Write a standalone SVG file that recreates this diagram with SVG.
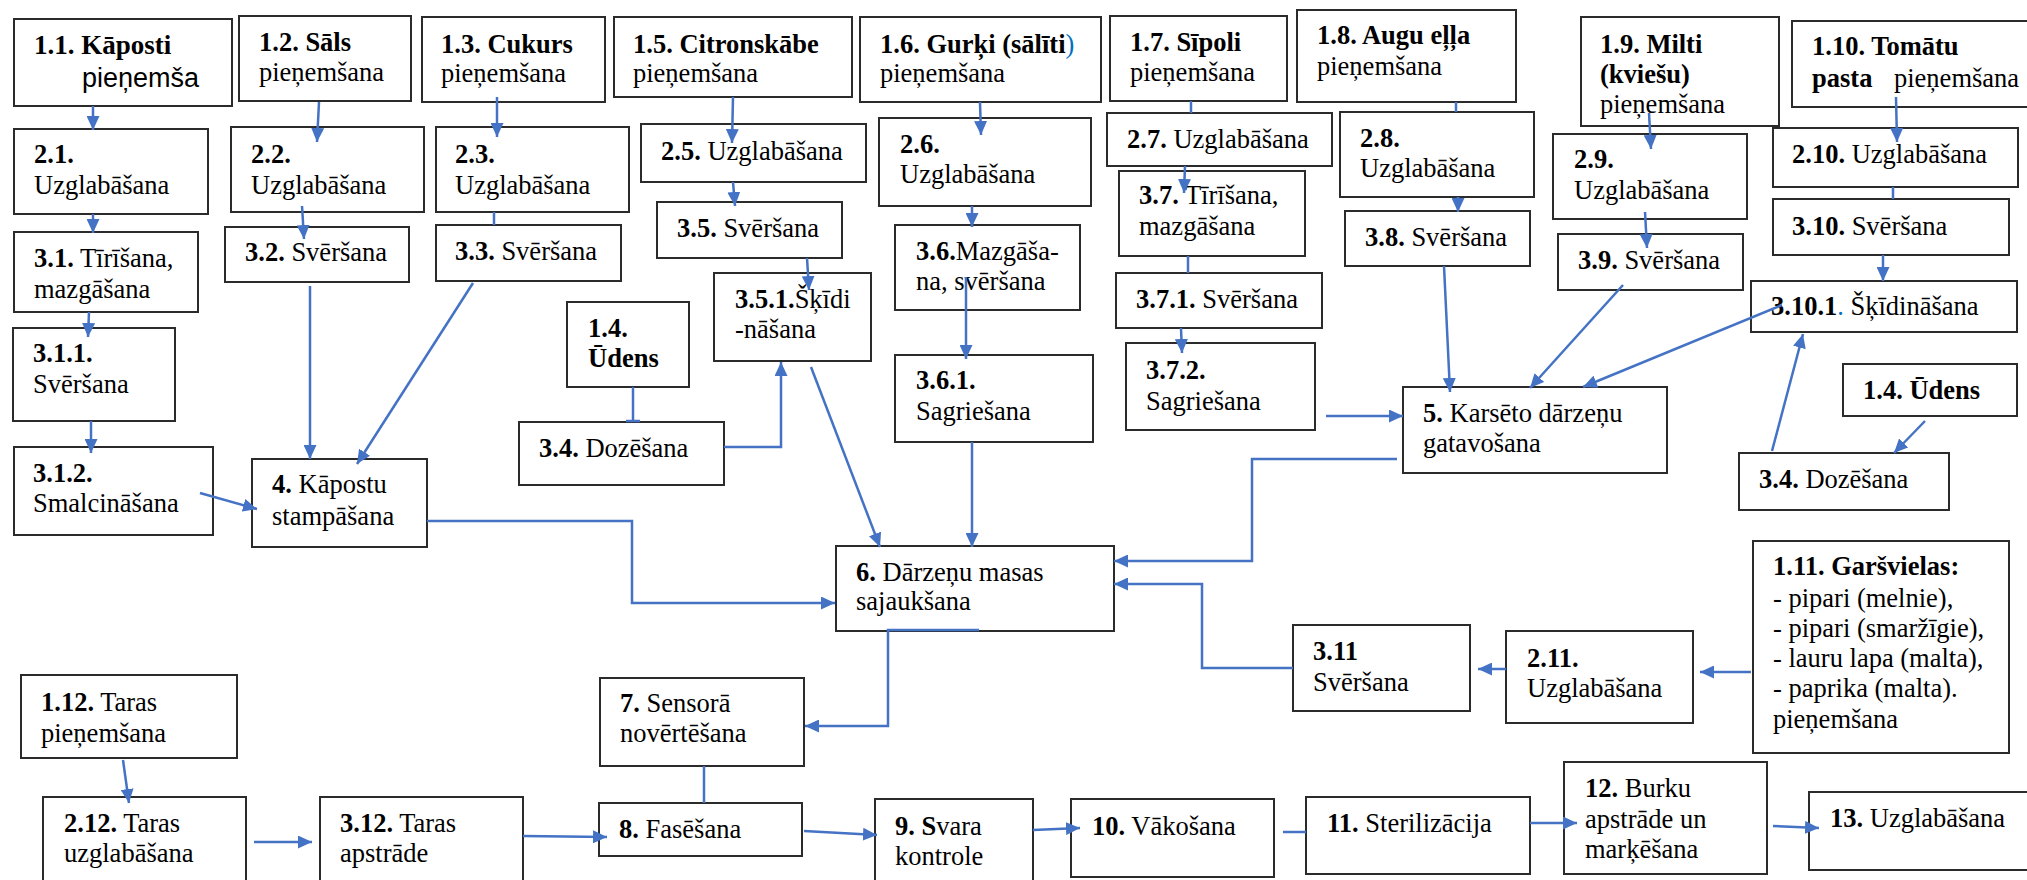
<svg xmlns="http://www.w3.org/2000/svg" width="2027" height="880" viewBox="0 0 2027 880">
<style>
rect{fill:#fff;stroke:#2b2b2b;stroke-width:2}
text{font-family:"Liberation Serif","Times New Roman",serif;font-size:26.5px;fill:#000}
.b{font-weight:bold}
.s{font-family:"Liberation Sans",Arial,sans-serif}
.bl{fill:#0070C0}
#connectors path,#connectors line,#connectors polyline{fill:none;stroke:#4472C4;stroke-width:2.5}
.a{marker-end:url(#ah)}
</style>
<defs>
<marker id="ah" viewBox="0 0 14 13" refX="14" refY="6.5" markerWidth="14" markerHeight="13" markerUnits="userSpaceOnUse" orient="auto"><path d="M0,0 L14,6.5 L0,13 z" fill="#4472C4"/></marker>
</defs>
<rect x="0" y="0" width="2027" height="880" style="fill:#fff;stroke:none"/>

<g id="n1_1"><rect x="14" y="19" width="218" height="87"/><text x="34" y="54" class="b" style="font-size:27px">1.1. Kāposti</text><text x="82" y="87" class="s" style="font-size:27px">pieņemša</text></g>
<g id="n1_2"><rect x="239" y="16" width="172" height="85"/><text x="259" y="51"><tspan class="b">1.2. Sāls</tspan><tspan x="259" y="81">pieņemšana</tspan></text></g>
<g id="n1_3"><rect x="422" y="17" width="183" height="85"/><text x="441" y="53"><tspan class="b">1.3. Cukurs</tspan><tspan x="441" y="82">pieņemšana</tspan></text></g>
<g id="n1_5"><rect x="614" y="17" width="238" height="80"/><text x="633" y="53"><tspan class="b">1.5. Citronskābe</tspan><tspan x="633" y="82">pieņemšana</tspan></text></g>
<g id="n1_6"><rect x="860" y="17" width="241" height="85"/><text x="880" y="53"><tspan class="b">1.6. Gurķi (sālīti</tspan><tspan class="bl">)</tspan><tspan x="880" y="82">pieņemšana</tspan></text></g>
<g id="n1_7"><rect x="1110" y="16" width="177" height="85"/><text x="1130" y="51"><tspan class="b">1.7. Sīpoli</tspan><tspan x="1130" y="81">pieņemšana</tspan></text></g>
<g id="n1_8"><rect x="1297" y="10" width="219" height="92"/><text x="1317" y="44"><tspan class="b">1.8. Augu eļļa</tspan><tspan x="1317" y="75">pieņemšana</tspan></text></g>
<g id="n1_9"><rect x="1581" y="17" width="198" height="109"/><text x="1600" y="53"><tspan class="b">1.9. Milti</tspan><tspan x="1600" y="83" class="b">(kviešu)</tspan><tspan x="1600" y="113">pieņemšana</tspan></text></g>
<g id="n1_10"><rect x="1792" y="21" width="245" height="86"/><text x="1812" y="55"><tspan class="b">1.10. Tomātu</tspan><tspan x="1812" y="87" class="b">pasta</tspan><tspan x="1894" y="87">pieņemšana</tspan></text></g>

<g id="n2_1"><rect x="14" y="129" width="194" height="85"/><text x="34" y="163"><tspan class="b">2.1.</tspan><tspan x="34" y="194">Uzglabāšana</tspan></text></g>
<g id="n2_2"><rect x="231" y="127" width="193" height="85"/><text x="251" y="163"><tspan class="b">2.2.</tspan><tspan x="251" y="194">Uzglabāšana</tspan></text></g>
<g id="n2_3"><rect x="436" y="127" width="193" height="85"/><text x="455" y="163"><tspan class="b">2.3.</tspan><tspan x="455" y="194">Uzglabāšana</tspan></text></g>
<g id="n2_5"><rect x="641" y="124" width="225" height="58"/><text x="661" y="160"><tspan class="b">2.5.</tspan> Uzglabāšana</text></g>
<g id="n2_6"><rect x="879" y="118" width="212" height="88"/><text x="900" y="153"><tspan class="b">2.6.</tspan><tspan x="900" y="183">Uzglabāšana</tspan></text></g>
<g id="n2_7"><rect x="1107" y="113" width="225" height="53"/><text x="1127" y="148"><tspan class="b">2.7.</tspan> Uzglabāšana</text></g>
<g id="n2_8"><rect x="1340" y="112" width="194" height="85"/><text x="1360" y="147"><tspan class="b">2.8.</tspan><tspan x="1360" y="177">Uzglabāšana</tspan></text></g>
<g id="n2_9"><rect x="1553" y="134" width="194" height="85"/><text x="1574" y="168"><tspan class="b">2.9.</tspan><tspan x="1574" y="199">Uzglabāšana</tspan></text></g>
<g id="n2_10"><rect x="1773" y="128" width="245" height="59"/><text x="1792" y="163"><tspan class="b">2.10.</tspan> Uzglabāšana</text></g>

<g id="n3_1"><rect x="14" y="232" width="184" height="80"/><text x="34" y="267"><tspan class="b">3.1.</tspan> Tīrīšana,<tspan x="34" y="298">mazgāšana</tspan></text></g>
<g id="n3_2"><rect x="225" y="227" width="184" height="55"/><text x="245" y="261"><tspan class="b">3.2.</tspan> Svēršana</text></g>
<g id="n3_3"><rect x="436" y="225" width="185" height="56"/><text x="455" y="260"><tspan class="b">3.3.</tspan> Svēršana</text></g>
<g id="n3_5"><rect x="657" y="202" width="185" height="56"/><text x="677" y="237"><tspan class="b">3.5.</tspan> Svēršana</text></g>
<g id="n3_6"><rect x="895" y="225" width="185" height="85"/><text x="916" y="260"><tspan class="b">3.6.</tspan>Mazgāša-<tspan x="916" y="290">na, svēršana</tspan></text></g>
<g id="n3_7"><rect x="1119" y="171" width="186" height="85"/><text x="1139" y="204"><tspan class="b">3.7.</tspan> Tīrīšana,<tspan x="1139" y="235">mazgāšana</tspan></text></g>
<g id="n3_8"><rect x="1345" y="211" width="185" height="55"/><text x="1365" y="246"><tspan class="b">3.8.</tspan> Svēršana</text></g>
<g id="n3_9"><rect x="1558" y="234" width="185" height="56"/><text x="1578" y="269"><tspan class="b">3.9.</tspan> Svēršana</text></g>
<g id="n3_10"><rect x="1773" y="199" width="236" height="56"/><text x="1792" y="235"><tspan class="b">3.10.</tspan> Svēršana</text></g>

<g id="n3_1_1"><rect x="13" y="328" width="162" height="93"/><text x="33" y="362"><tspan class="b">3.1.1.</tspan><tspan x="33" y="393">Svēršana</tspan></text></g>
<g id="n3_5_1"><rect x="714" y="273" width="157" height="88"/><text x="735" y="308"><tspan class="b">3.5.1.</tspan>Šķīdi<tspan x="735" y="338">-nāšana</tspan></text></g>
<g id="n1_4a"><rect x="567" y="302" width="122" height="85"/><text x="588" y="337" class="b">1.4.<tspan x="588" y="367">Ūdens</tspan></text></g>
<g id="n3_6_1"><rect x="895" y="355" width="198" height="87"/><text x="916" y="389"><tspan class="b">3.6.1.</tspan><tspan x="916" y="420">Sagriešana</tspan></text></g>
<g id="n3_7_1"><rect x="1116" y="273" width="206" height="55"/><text x="1136" y="308"><tspan class="b">3.7.1.</tspan> Svēršana</text></g>
<g id="n3_7_2"><rect x="1126" y="343" width="189" height="87"/><text x="1146" y="379"><tspan class="b">3.7.2.</tspan><tspan x="1146" y="410">Sagriešana</tspan></text></g>
<g id="n3_10_1"><rect x="1751" y="281" width="266" height="51"/><text x="1771" y="315"><tspan class="b">3.10.1</tspan><tspan class="bl">.</tspan> Šķīdināšana</text></g>
<g id="n1_4b"><rect x="1843" y="364" width="174" height="52"/><text x="1863" y="399" class="b">1.4. Ūdens</text></g>

<g id="n3_1_2"><rect x="14" y="447" width="199" height="88"/><text x="33" y="482"><tspan class="b">3.1.2.</tspan><tspan x="33" y="512">Smalcināšana</tspan></text></g>
<g id="n4"><rect x="252" y="459" width="175" height="88"/><text x="272" y="493"><tspan class="b">4.</tspan> Kāpostu<tspan x="272" y="525">stampāšana</tspan></text></g>
<g id="n3_4a"><rect x="519" y="422" width="205" height="63"/><text x="539" y="457"><tspan class="b">3.4.</tspan> Dozēšana</text></g>
<g id="n5"><rect x="1403" y="387" width="264" height="86"/><text x="1423" y="422"><tspan class="b">5.</tspan> Karsēto dārzeņu<tspan x="1423" y="452">gatavošana</tspan></text></g>
<g id="n3_4b"><rect x="1739" y="453" width="210" height="57"/><text x="1759" y="488"><tspan class="b">3.4.</tspan> Dozēšana</text></g>
<g id="n6"><rect x="836" y="546" width="278" height="85"/><text x="856" y="581"><tspan class="b">6.</tspan> Dārzeņu masas<tspan x="856" y="610">sajaukšana</tspan></text></g>

<g id="n1_11"><rect x="1753" y="541" width="256" height="212"/><text x="1773" y="575"><tspan class="b">1.11. Garšvielas:</tspan><tspan x="1773" y="607">- pipari (melnie),</tspan><tspan x="1773" y="637">- pipari (smaržīgie),</tspan><tspan x="1773" y="667">- lauru lapa (malta),</tspan><tspan x="1773" y="697">- paprika (malta).</tspan><tspan x="1773" y="728">pieņemšana</tspan></text></g>
<g id="n2_11"><rect x="1506" y="631" width="187" height="92"/><text x="1527" y="667"><tspan class="b">2.11.</tspan><tspan x="1527" y="697">Uzglabāšana</tspan></text></g>
<g id="n3_11"><rect x="1293" y="625" width="177" height="86"/><text x="1313" y="660"><tspan class="b">3.11</tspan><tspan x="1313" y="691">Svēršana</tspan></text></g>
<g id="n7"><rect x="600" y="678" width="204" height="88"/><text x="620" y="712"><tspan class="b">7.</tspan> Sensorā<tspan x="620" y="742">novērtēšana</tspan></text></g>
<g id="n1_12"><rect x="21" y="675" width="216" height="83"/><text x="41" y="711"><tspan class="b">1.12.</tspan> Taras<tspan x="41" y="742">pieņemšana</tspan></text></g>

<g id="n2_12"><rect x="43" y="797" width="203" height="95"/><text x="64" y="832"><tspan class="b">2.12.</tspan> Taras<tspan x="64" y="862">uzglabāšana</tspan></text></g>
<g id="n3_12"><rect x="320" y="797" width="203" height="95"/><text x="340" y="832"><tspan class="b">3.12.</tspan> Taras<tspan x="340" y="862">apstrāde</tspan></text></g>
<g id="n8"><rect x="599" y="803" width="203" height="53"/><text x="619" y="838"><tspan class="b">8.</tspan> Fasēšana</text></g>
<g id="n9"><rect x="875" y="799" width="158" height="93"/><text x="895" y="835"><tspan class="b">9. S</tspan>vara<tspan x="895" y="865">kontrole</tspan></text></g>
<g id="n10"><rect x="1071" y="799" width="203" height="78"/><text x="1092" y="835"><tspan class="b">10.</tspan> Vākošana</text></g>
<g id="n11"><rect x="1306" y="797" width="224" height="77"/><text x="1327" y="832"><tspan class="b">11.</tspan> Sterilizācija</text></g>
<g id="n12"><rect x="1564" y="762" width="203" height="112"/><text x="1585" y="797"><tspan class="b">12.</tspan> Burku<tspan x="1585" y="828">apstrāde un</tspan><tspan x="1585" y="858">marķēšana</tspan></text></g>
<g id="n13"><rect x="1809" y="792" width="228" height="78"/><text x="1830" y="827"><tspan class="b">13.</tspan> Uzglabāšana</text></g>

<g id="connectors">
<line class="a" x1="93" y1="106" x2="93" y2="130"/>
<line class="a" x1="319" y1="102" x2="317" y2="142"/>
<line class="a" x1="497" y1="97" x2="497" y2="137"/>
<line class="a" x1="93" y1="214" x2="93" y2="233"/>
<line class="a" x1="302" y1="206" x2="304" y2="239"/>
<line x1="494" y1="212" x2="494" y2="225"/>
<line class="a" x1="89" y1="312" x2="88" y2="337"/>
<line class="a" x1="91" y1="421" x2="91" y2="453"/>
<line class="a" x1="310" y1="286" x2="310" y2="459"/>
<line class="a" x1="473" y1="283" x2="357" y2="464"/>
<line class="a" x1="200" y1="493" x2="257" y2="509"/>
<polyline class="a" points="427,521 632,521 632,603 835,603"/>
<line x1="633" y1="387" x2="633" y2="422"/>
<line x1="626" y1="421" x2="640" y2="421"/>
<polyline class="a" points="724,447 781,447 781,362"/>
<line class="a" x1="733" y1="97" x2="732" y2="143"/>
<line class="a" x1="733" y1="182" x2="735" y2="206"/>
<line class="a" x1="807" y1="258" x2="809" y2="290"/>
<line class="a" x1="811" y1="367" x2="880" y2="547"/>
<line class="a" x1="980" y1="102" x2="981" y2="135"/>
<line class="a" x1="972" y1="206" x2="972" y2="227"/>
<line class="a" x1="966" y1="277" x2="966" y2="359"/>
<line class="a" x1="972" y1="442" x2="972" y2="547"/>
<line x1="1191" y1="101" x2="1191" y2="113"/>
<line class="a" x1="1185" y1="166" x2="1184" y2="193"/>
<line x1="1188" y1="256" x2="1188" y2="273"/>
<line class="a" x1="1181" y1="328" x2="1182" y2="353"/>
<line class="a" x1="1326" y1="416" x2="1403" y2="416"/>
<polyline class="a" points="1397,459 1252,459 1252,561 1114,561"/>
<line x1="1456" y1="102" x2="1456" y2="112"/>
<line class="a" x1="1458" y1="197" x2="1458" y2="212"/>
<line class="a" x1="1444" y1="266" x2="1450" y2="392"/>
<line class="a" x1="1649" y1="113" x2="1651" y2="149"/>
<line class="a" x1="1645" y1="212" x2="1647" y2="248"/>
<line class="a" x1="1623" y1="285" x2="1530" y2="388"/>
<line class="a" x1="1896" y1="97" x2="1897" y2="142"/>
<line x1="1893" y1="187" x2="1893" y2="199"/>
<line class="a" x1="1883" y1="255" x2="1883" y2="281"/>
<line class="a" x1="1782" y1="305" x2="1583" y2="387"/>
<line class="a" x1="1772" y1="451" x2="1803" y2="334"/>
<line class="a" x1="1925" y1="421" x2="1894" y2="453"/>
<line class="a" x1="1751" y1="672" x2="1700" y2="672"/>
<line class="a" x1="1506" y1="669" x2="1478" y2="669"/>
<polyline class="a" points="1293,668 1202,668 1202,584 1114,584"/>
<polyline class="a" points="979,630 888,630 888,726 805,726"/>
<line x1="704" y1="766" x2="704" y2="803"/>
<line class="a" x1="123" y1="760" x2="129" y2="803"/>
<line class="a" x1="254" y1="842" x2="312" y2="842"/>
<line class="a" x1="523" y1="836" x2="607" y2="837"/>
<line class="a" x1="804" y1="831" x2="877" y2="835"/>
<line class="a" x1="1033" y1="830" x2="1080" y2="828"/>
<line x1="1283" y1="832" x2="1306" y2="832"/>
<line class="a" x1="1530" y1="823" x2="1577" y2="823"/>
<line class="a" x1="1773" y1="826" x2="1819" y2="828"/>
</g>
</svg>
